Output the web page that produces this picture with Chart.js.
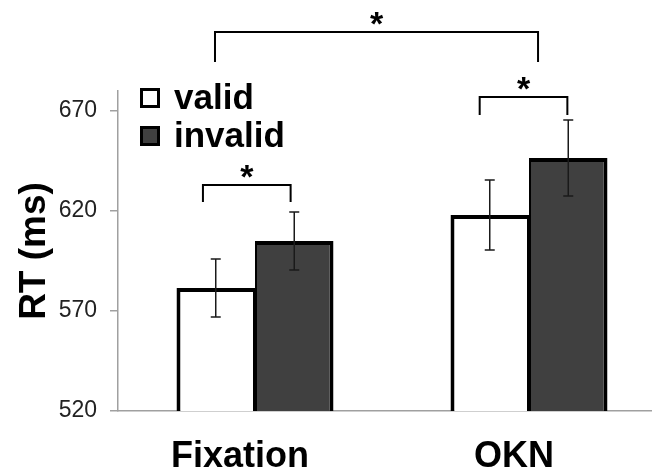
<!DOCTYPE html>
<html>
<head>
<meta charset="utf-8">
<script src="https://cdn.jsdelivr.net/npm/chart.js@4/dist/chart.umd.min.js"></script>
<style>
  html, body { margin: 0; padding: 0; background: #fff; overflow: hidden; }
  #wrap { width: 666px; height: 473px; }
</style>
</head>
<body>
<div id="wrap"><canvas id="rtChart"></canvas></div>
<script>
// Reaction times per condition (ms), mean and error
const conditions = ['Fixation', 'OKN'];
const seriesNames = ['valid', 'invalid'];
const validRT = [581.5, 618];
const invalidRT = [605, 646.5];
const validErr = [14.5, 17.5];
const invalidErr = [14.5, 19];
const yTicks = [520, 570, 620, 670];

// significance brackets: span in category units, bar level and tip level in ms
const sigFrom = [-0.19, 0.82, -0.146];
const sigTo = [0.13, 1.14, 1.033];
const sigTop = [633, 677, 709.5];
const sigTip = [624.5, 668, 694.5];

const FONT = '"Liberation Sans", Arial, sans-serif';

// whiskers drawn on top of the bars
const errorBars = {
    id: 'errorBars',
    afterDatasetsDraw(chart) {
        const ctx = chart.ctx;
        const yScale = chart.scales.y;
        ctx.save();
        ctx.strokeStyle = '#1a1a1a';
        ctx.lineWidth = 1.5;
        chart.data.datasets.forEach((ds, di) => {
            chart.getDatasetMeta(di).data.forEach((bar, i) => {
                const hi = yScale.getPixelForValue(ds.data[i] + ds.errors[i]);
                const lo = yScale.getPixelForValue(ds.data[i] - ds.errors[i]);
                ctx.beginPath();
                ctx.moveTo(bar.x, hi);
                ctx.lineTo(bar.x, lo);
                ctx.moveTo(bar.x - 5, hi);
                ctx.lineTo(bar.x + 5, hi);
                ctx.moveTo(bar.x - 5, lo);
                ctx.lineTo(bar.x + 5, lo);
                ctx.stroke();
            });
        });
        ctx.restore();
    }
};

// brackets with asterisks
const sigMarks = {
    id: 'sigMarks',
    afterDraw(chart) {
        const ctx = chart.ctx;
        const xScale = chart.scales.x;
        const yScale = chart.scales.y;
        ctx.save();
        ctx.strokeStyle = '#000';
        ctx.lineWidth = 2;
        ctx.fillStyle = '#000';
        ctx.font = 'bold 34px ' + FONT;
        ctx.textAlign = 'center';
        ctx.textBaseline = 'alphabetic';
        sigFrom.forEach((from, i) => {
            const x1 = xScale.getPixelForValue(from);
            const x2 = xScale.getPixelForValue(sigTo[i]);
            const top = yScale.getPixelForValue(sigTop[i]);
            const tip = yScale.getPixelForValue(sigTip[i]);
            ctx.beginPath();
            ctx.moveTo(x1, tip);
            ctx.lineTo(x1, top);
            ctx.lineTo(x2, top);
            ctx.lineTo(x2, tip);
            ctx.stroke();
            ctx.fillText('*', (x1 + x2) / 2, top + 3);
        });
        ctx.restore();
    }
};

// legend inside the plot, top left
const boxLegend = {
    id: 'boxLegend',
    afterDraw(chart) {
        const ctx = chart.ctx;
        const area = chart.chartArea;
        ctx.save();
        ctx.font = 'bold 35px ' + FONT;
        ctx.textAlign = 'left';
        ctx.textBaseline = 'alphabetic';
        chart.data.datasets.forEach((ds, i) => {
            const bx = area.left + 22;
            const by = area.top - 3 + i * 38;
            ctx.fillStyle = ds.backgroundColor;
            ctx.fillRect(bx, by, 20, 20);
            ctx.strokeStyle = '#000';
            ctx.lineWidth = 3;
            ctx.strokeRect(bx + 1.5, by + 1.5, 17, 17);
            ctx.fillStyle = '#000';
            ctx.fillText(ds.label, bx + 34, by + 21);
        });
        ctx.restore();
    }
};

const ctx = document.getElementById('rtChart').getContext('2d');
new Chart(ctx, {
    type: 'bar',
    data: {
        labels: conditions,
        datasets: [{
            label: seriesNames[0],
            data: validRT,
            errors: validErr,
            backgroundColor: '#ffffff',
            borderWidth: { top: 4, left: 4, bottom: 4, right: 2 }
        }, {
            label: seriesNames[1],
            data: invalidRT,
            errors: invalidErr,
            backgroundColor: '#404040',
            borderWidth: { top: 4, left: 2, bottom: 4, right: 4 }
        }]
    },
    options: {
        responsive: true,
        maintainAspectRatio: false,
        animation: false,
        layout: { padding: { top: 91, left: 0, right: 0, bottom: 0 } },
        datasets: {
            bar: {
                borderColor: '#000',
                borderSkipped: false,
                categoryPercentage: 0.573,
                barPercentage: 1.0
            }
        },
        plugins: {
            legend: { display: false },
            tooltip: { enabled: false }
        },
        scales: {
            x: {
                afterFit: s => { s.height = 62; },
                grid: { display: false },
                border: { display: true, color: '#a0a0a0', width: 1.5 },
                ticks: {
                    color: '#000',
                    padding: 16,
                    labelOffset: -15,
                    font: { family: FONT, size: 36, weight: 'bold' }
                }
            },
            y: {
                min: 520,
                max: 680,
                afterBuildTicks: s => { s.ticks = yTicks.map(v => ({ value: v })); },
                afterFit: s => { s.width = 118; },
                grid: { drawOnChartArea: false, color: '#a0a0a0', tickLength: 8, lineWidth: 1.5 },
                border: { color: '#a0a0a0', width: 1.5 },
                ticks: {
                    color: '#222',
                    padding: 13,
                    font: { family: FONT, size: 23 }
                },
                title: {
                    display: true,
                    text: 'RT (ms)',
                    color: '#000',
                    padding: { top: 13, bottom: 0 },
                    font: { family: FONT, size: 37, weight: 'bold' }
                }
            }
        }
    },
    plugins: [errorBars, sigMarks, boxLegend]
});
</script>
</body>
</html>
